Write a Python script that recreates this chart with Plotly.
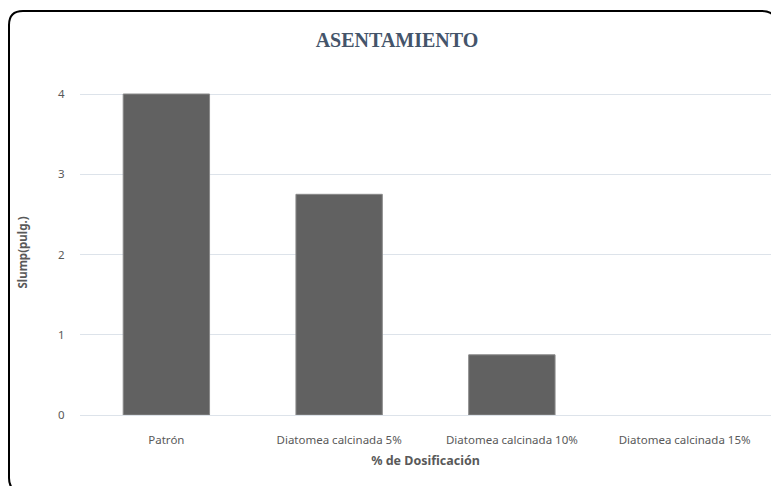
import plotly.graph_objects as go

# Slump test results per dosage
categories = ["Patrón", "Diatomea calcinada 5%", "Diatomea calcinada 10%", "Diatomea calcinada 15%"]
slump = [4.0, 2.75, 0.75, 0.0]
y_ticks = [0, 1, 2, 3, 4]

W, H = 771, 486
L, R, T, B = 80, 0, 90, 71
pw, ph = W - L - R, H - T - B
Y_MAX = 4.05


def px(x):
    return (x - L) / pw


def py(y):
    return (H - B - y) / ph


fig = go.Figure(
    go.Bar(
        x=categories,
        y=slump,
        width=0.5,
        marker=dict(
            color="#616161",
            line=dict(color=["#8a8a8a" if v > 0 else "rgba(0,0,0,0)" for v in slump], width=1),
        ),
        showlegend=False,
    )
)

# rounded outer frame around the chart
x0, y0, x1, y1, r = 9, 11, 776, 492, 14
frame = (
    f"M {px(x0 + r)},{py(y0)} L {px(x1 - r)},{py(y0)} "
    f"Q {px(x1)},{py(y0)} {px(x1)},{py(y0 + r)} L {px(x1)},{py(y1 - r)} "
    f"Q {px(x1)},{py(y1)} {px(x1 - r)},{py(y1)} L {px(x0 + r)},{py(y1)} "
    f"Q {px(x0)},{py(y1)} {px(x0)},{py(y1 - r)} L {px(x0)},{py(y0 + r)} "
    f"Q {px(x0)},{py(y0)} {px(x0 + r)},{py(y0)} Z"
)

fig.update_layout(
    width=W,
    height=H,
    margin=dict(l=L, r=R, t=T, b=B),
    paper_bgcolor="white",
    plot_bgcolor="white",
    title=dict(
        text="<b>ASENTAMIENTO</b>",
        x=397 / W,
        xanchor="center",
        y=1 - 40 / H,
        yanchor="middle",
        font=dict(family="Liberation Serif", size=20, color="#44546A"),
    ),
    font=dict(family="Noto Sans", color="#595959"),
    xaxis=dict(
        showgrid=False,
        showline=False,
        ticks="outside",
        ticklen=14,
        tickcolor="rgba(0,0,0,0)",
        tickfont=dict(size=11.5, color="#595959"),
        title=dict(
            text="<b>% de Dosificación</b>",
            font=dict(size=12.5, color="#595959"),
            standoff=10,
        ),
    ),
    yaxis=dict(
        range=[0, Y_MAX],
        tickvals=y_ticks,
        gridcolor="#DDE3EA",
        gridwidth=1,
        zeroline=True,
        zerolinecolor="#DDE3EA",
        zerolinewidth=1,
        showline=False,
        ticks="outside",
        ticklen=12,
        tickcolor="rgba(0,0,0,0)",
        tickfont=dict(size=11.5, color="#595959"),
        title=dict(
            text="<b>Slump(pulg.)</b>",
            font=dict(size=11.5, color="#595959"),
            standoff=28,
        ),
    ),
    shapes=[
        dict(
            type="path",
            path=frame,
            xref="paper",
            yref="paper",
            line=dict(color="black", width=2),
            layer="above",
        )
    ],
)

fig.write_html("out.html")
